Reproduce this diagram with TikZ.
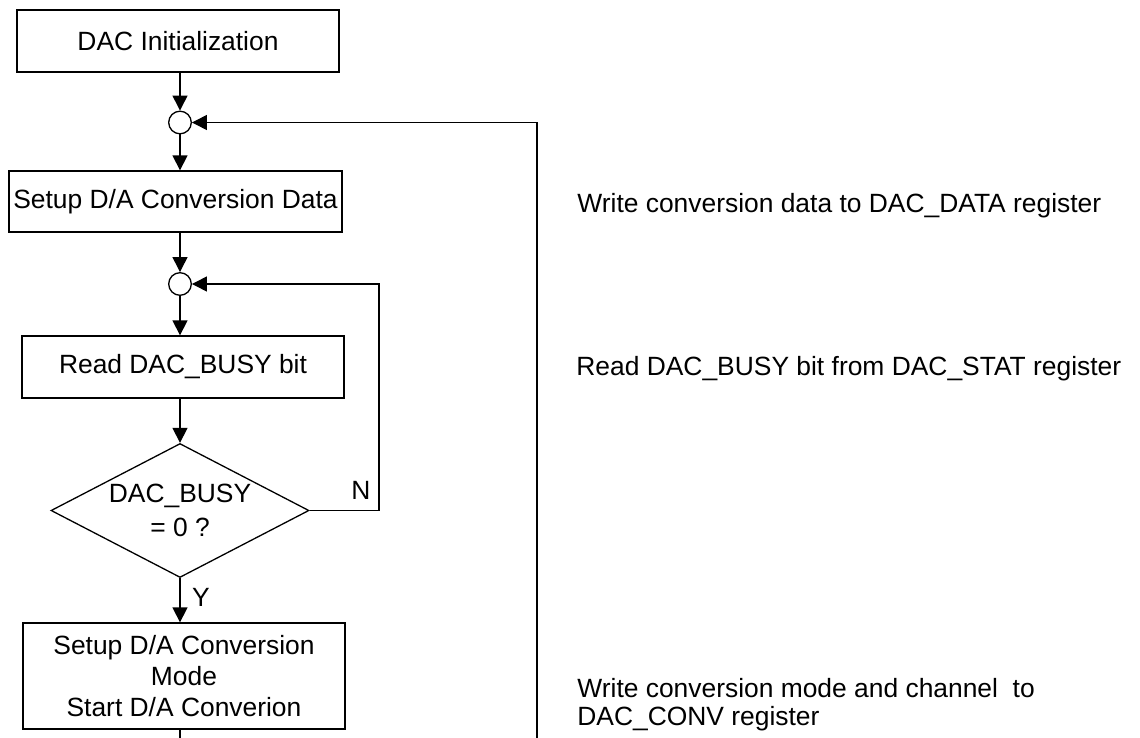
\documentclass[tikz,border=0pt]{standalone}
\usepackage{fontspec}
\setmainfont{Liberation Sans}
\usetikzlibrary{shapes.geometric,arrows.meta}
\begin{document}
\begin{tikzpicture}[x=0.5pt,y=-0.5pt,
  every node/.style={font=\fontsize{13.2}{15.6}\selectfont},
  box/.style={draw,line width=0.65pt,rectangle,inner sep=0pt,align=center},
  junc/.style={draw,line width=0.65pt,circle,inner sep=0pt,minimum size=11.3pt,fill=white},
  dec/.style={draw,line width=0.65pt,diamond,inner sep=0pt,aspect=1.925,minimum width=129pt,minimum height=67pt,align=center},
  arr/.style={line width=0.65pt,-{Triangle[length=7.5pt,width=7.5pt]}},
  ln/.style={line width=0.65pt},
  note/.style={anchor=base west,inner sep=0pt,align=left}]
\useasboundingbox (0,0) rectangle (1140,738);
% nodes
\node[box,minimum width=161pt,minimum height=31pt] (init) at (178,41) {DAC Initialization};
\node[junc] (c1) at (180,122.5) {};
\node[box,minimum width=166.5pt,minimum height=30.5pt] (setup) at (175.5,201.5) {Setup D/A Conversion Data};
\node[junc] (c2) at (180,284) {};
\node[box,minimum width=161pt,minimum height=31pt] (read) at (183,367) {Read DAC\_BUSY bit};
\node[dec] (dec) at (180,510.5) {DAC\_BUSY\\[1.2pt]= 0 ?};
\node[box,minimum width=161pt,minimum height=53pt] (mode) at (184,676) {Setup D/A Conversion\\Mode\\Start D/A Converion};
\node[inner sep=0pt] (nlab) at (361,490) {N};
\node[inner sep=0pt] (ylab) at (201,597) {Y};
\coordinate (bl1) at (537,738);
\coordinate (bl2) at (180,738);
\coordinate (nx) at (379,0);
% notes
\node[note] (n1) at (577,212.5) {Write conversion data to DAC\_DATA register};
\node[note] (n2) at (576,375.5) {Read DAC\_BUSY bit from DAC\_STAT register};
\node[note] (n3) at (577,697) {Write conversion mode and channel\ \ to};
\node[note] (n4) at (577,725) {DAC\_CONV register};
% connectors
\draw[arr] (init.south -| c1) -- (c1.north);
\draw[arr] (c1.south) -- (c1.south |- setup.north);
\draw[arr] (setup.south -| c2) -- (c2.north);
\draw[arr] (c2.south) -- (c2.south |- read.north);
\draw[arr] (read.south -| dec) -- (dec.north);
\draw[arr] (dec.south) -- (dec.south |- mode.north);
\draw[arr] (dec.east) -- (dec.east -| nx) |- (c2.east);
\draw[arr] (bl1) |- (c1.east);
\draw[ln] (mode.south -| bl2) -- (bl2);
\end{tikzpicture}
\end{document}
